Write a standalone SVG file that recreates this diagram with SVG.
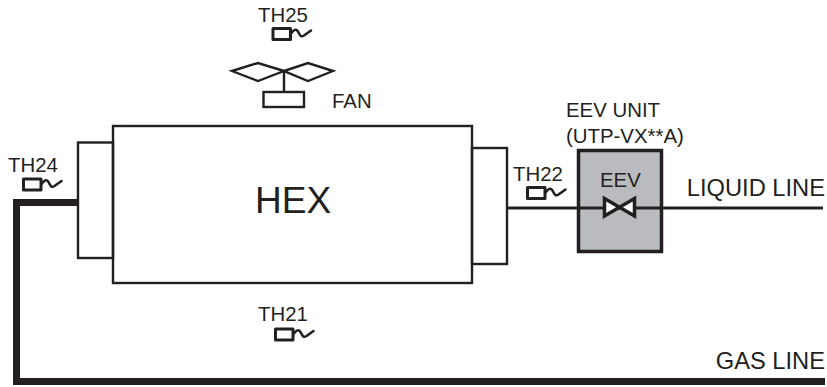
<svg xmlns="http://www.w3.org/2000/svg" width="827" height="387" viewBox="0 0 827 387">
<style>
text{font-family:"Liberation Sans",Arial,sans-serif;fill:#231f20;font-size:20.4px}
.s{fill:none;stroke:#231f20;stroke-width:2.4;stroke-linejoin:miter}
.sr{fill:none;stroke:#231f20;stroke-width:3;stroke-linejoin:round}
.w{fill:none;stroke:#231f20;stroke-width:2.6;stroke-linecap:round;stroke-linejoin:round}
</style>
<defs>
<g id="sensor">
<rect class="sr" x="0" y="0" width="17.500" height="11"/>
<path class="w" d="M18 5C21 1 23 0 25 3C27 7 28 9 31 7L38 2"/>
</g>
</defs>
<rect width="827" height="387" fill="#fff"/>
<g id="connectors">
<path id="gas-line" d="M77 202.500H16.500V381.500H825" fill="none" stroke="#231f20" stroke-width="7"/>
</g>
<g id="eev-unit">
<rect x="578.500" y="150.500" width="83" height="101" fill="#b9bbbe" stroke="#231f20" stroke-width="3.500"/>
<path id="liquid-line" d="M507 208H823" fill="none" stroke="#231f20" stroke-width="3.200"/>
<path d="M604.500 198.500V216L634.500 198.500V216Z" fill="#fff" stroke="#231f20" stroke-width="3.500" stroke-linejoin="miter"/>
<text x="600" y="187">EEV</text>
<text x="566" y="117">EEV UNIT</text>
<text x="566" y="143">(UTP-VX**A)</text>
</g>
<g id="hex">
<rect class="s" x="78" y="142.500" width="35" height="115.500"/>
<rect class="s" x="472" y="148" width="35" height="116"/>
<rect class="s" x="113" y="126" width="359" height="157"/>
<text x="255" y="212.500" style="font-size:37px">HEX</text>
</g>
<g id="fan">
<path class="s" d="M232 71L258 63L284 71L258 81ZM284 71L308 63L333 71L308 81ZM284 71V92"/>
<rect class="s" x="263.500" y="92" width="40.500" height="15"/>
<text x="332" y="108">FAN</text>
</g>
<g id="th25"><text x="258" y="22">TH25</text><use href="#sensor" x="273" y="28.500"/></g>
<g id="th24"><text x="8" y="172">TH24</text><use href="#sensor" x="23.500" y="179"/></g>
<g id="th22"><text x="513" y="181">TH22</text><use href="#sensor" x="527.500" y="187.500"/></g>
<g id="th21"><text x="258" y="321">TH21</text><use href="#sensor" x="275.500" y="329"/></g>
<g id="labels">
<text x="825" y="196" text-anchor="end" style="font-size:23.700px">LIQUID LINE</text>
<text x="825" y="369" text-anchor="end" style="font-size:23.700px">GAS LINE</text>
</g>
</svg>
